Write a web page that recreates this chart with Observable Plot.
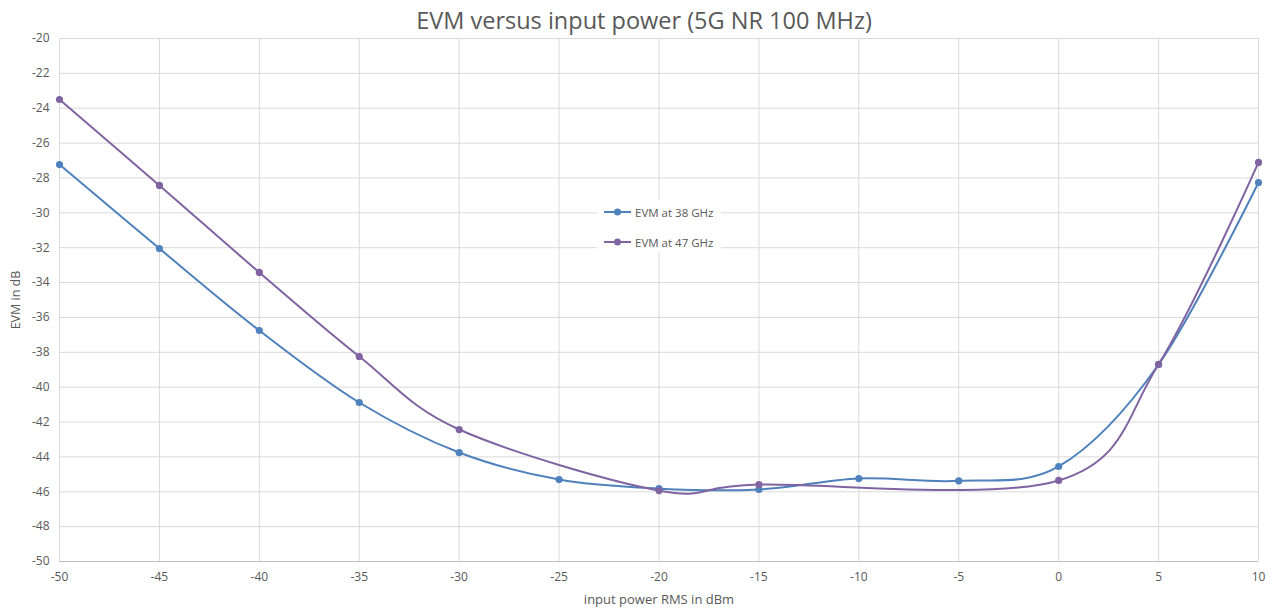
<!DOCTYPE html>
<html>
<head>
<meta charset="utf-8">
<script src="https://cdn.jsdelivr.net/npm/d3@7"></script>
<script src="https://cdn.jsdelivr.net/npm/@observablehq/plot@0.6"></script>
<style>
  body { margin: 0; background: #fff; font-family: "Open Sans", sans-serif; }
  #wrap { position: relative; width: 1274px; height: 611px; overflow: hidden; }
  #title { height: 30px; line-height: 40px; text-align: center; font-size: 23.5px; color: #595959; padding-left: 14px; }
  #legend { position: absolute; left: 597px; top: 200px; width: 124px; height: 52px; background: #fff; font-size: 11.5px; color: #595959; }
  .row { position: absolute; left: 6px; display: flex; align-items: center; }
  .row svg { margin-right: 3px; }
</style>
</head>
<body>
<div id="wrap">
  <div id="title"></div>
  <div id="chart"></div>
  <div id="legend"></div>
</div>
<script>
const chartTitle = "EVM versus input power (5G NR 100 MHz)";
const xTitle = "input power RMS in dBm";
const yTitle = "EVM in dB";
const seriesNames = ["EVM at 38 GHz", "EVM at 47 GHz"];
const seriesColors = ["#4F81BD", "#8064A2"];

const power38 = [-50, -45, -40, -35, -30, -25, -20, -15, -10, -5, 0, 5, 10];
const evm38   = [-27.23, -32.05, -36.75, -40.88, -43.75, -45.3, -45.82, -45.87, -45.24, -45.37, -44.55, -38.7, -28.26];
const power47 = [-50, -45, -40, -35, -30, -20, -15, 0, 5, 10];
const evm47   = [-23.5, -28.43, -33.42, -38.24, -42.43, -45.93, -45.59, -45.35, -38.69, -27.11];

const xTicks = [-50, -45, -40, -35, -30, -25, -20, -15, -10, -5, 0, 5, 10];
const yTicks = [-50, -48, -46, -44, -42, -40, -38, -36, -34, -32, -30, -28, -26, -24, -22, -20];

const rows38 = power38.map((p, i) => ({x: p, y: evm38[i]}));
const rows47 = power47.map((p, i) => ({x: p, y: evm47[i]}));

document.getElementById("title").textContent = chartTitle;

const plot = Plot.plot({
  width: 1274,
  height: 581,
  marginTop: 8,
  marginBottom: 50,
  marginLeft: 59,
  marginRight: 16,
  style: { fontFamily: "Open Sans, sans-serif", fontSize: "12px", color: "#595959", background: "#fff" },
  x: { domain: [-50, 10] },
  y: { domain: [-50, -20] },
  marks: [
    Plot.gridX(xTicks, { stroke: "#d9d9d9", strokeOpacity: 1 }),
    Plot.gridY(yTicks, { stroke: "#d9d9d9", strokeOpacity: 1 }),
    Plot.ruleY([-50], { stroke: "#bfbfbf" }),
    Plot.axisX(xTicks, { tickSize: 0, tickPadding: 11, tickFormat: d => String(d), fontSize: 12, label: null }),
    Plot.axisX({ ticks: [], tickSize: 0, label: xTitle, labelAnchor: "center", labelArrow: "none", labelOffset: 42, fontSize: 13 }),
    Plot.axisY(yTicks, { tickSize: 0, tickPadding: 10, tickFormat: d => String(d), fontSize: 12, label: null }),
    Plot.axisY({ ticks: [], tickSize: 0, label: yTitle, labelAnchor: "center", labelArrow: "none", labelOffset: 48, fontSize: 12.5 }),
    Plot.line(rows38, { x: "x", y: "y", stroke: seriesColors[0], strokeWidth: 2, curve: "cardinal" }),
    Plot.line(rows47, { x: "x", y: "y", stroke: seriesColors[1], strokeWidth: 2, curve: "cardinal" }),
    Plot.dot(rows38, { x: "x", y: "y", fill: seriesColors[0], r: 3.6 }),
    Plot.dot(rows47, { x: "x", y: "y", fill: seriesColors[1], r: 3.6 })
  ]
});
document.getElementById("chart").appendChild(plot);

const legend = document.getElementById("legend");
seriesNames.forEach((name, i) => {
  const row = document.createElement("div");
  row.className = "row";
  row.style.top = (i === 0 ? 4 : 34) + "px";
  row.innerHTML = `<svg width="29" height="16"><line x1="1" x2="28" y1="8" y2="8" stroke="${seriesColors[i]}" stroke-width="2"/><circle cx="14.5" cy="8" r="3.5" fill="${seriesColors[i]}"/></svg><span>${name}</span>`;
  legend.appendChild(row);
});
</script>
</body>
</html>
